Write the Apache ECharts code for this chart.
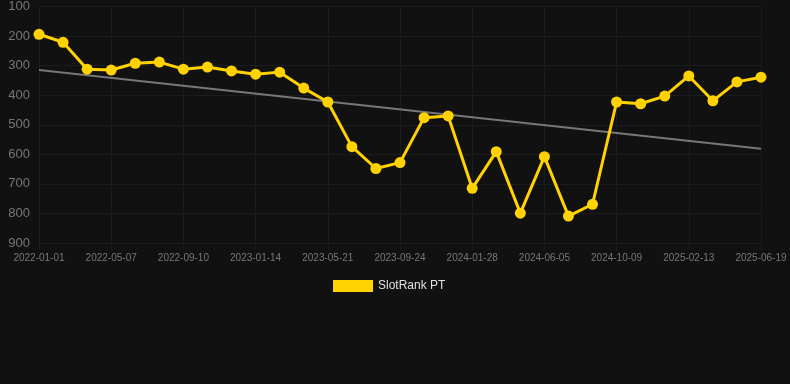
<!DOCTYPE html>
<html><head><meta charset="utf-8">
<script src="https://cdn.jsdelivr.net/npm/echarts@6/dist/echarts.min.js"></script>
<style>html,body{margin:0;padding:0;background:#111111;}#c{width:790px;height:384px;}</style>
</head><body><div id="c"></div>
<script>
const dates = ['2022-01-01','2022-02-12','2022-03-26','2022-05-07','2022-06-18','2022-07-30','2022-09-10','2022-10-22','2022-12-03','2023-01-14','2023-02-25','2023-04-09','2023-05-21','2023-07-02','2023-08-13','2023-09-24','2023-11-05','2023-12-17','2024-01-28','2024-03-11','2024-04-23','2024-06-05','2024-07-17','2024-08-28','2024-10-09','2024-11-20','2025-01-01','2025-02-13','2025-03-27','2025-05-08','2025-06-19'];
const rankValues = [194,221,312,315,292,288,312,305,318,329,322,376,423,574,648,628,476,470,715,591,799,608,809,769,423,429,403,335,419,355,339];
const trendStart = 315;
const trendEnd = 581;
const seriesName = 'SlotRank PT';

const trendData = dates.map((d,i)=> i===0 ? trendStart : (i===dates.length-1 ? trendEnd : null));

const chart = echarts.init(document.getElementById('c'), null, {renderer:'canvas'});
chart.setOption({
  backgroundColor:'#111111',
  animation:false,
  grid:{left:39,right:29,top:5,bottom:141,containLabel:false},
  legend:{
    data:[{name:seriesName}],
    bottom:87, left:328,
    itemWidth:40, itemHeight:12, itemGap:10,
    icon:'rect',
    textStyle:{color:'#e0e0e0',fontSize:12,fontFamily:'Arial, Liberation Sans, sans-serif'}
  },
  xAxis:{
    type:'category', data:dates, boundaryGap:false,
    axisLine:{show:false},
    axisTick:{show:true,interval:2,length:7,lineStyle:{color:'#1c1c1c'}},
    axisLabel:{interval:2,color:'#777777',fontSize:10,margin:10,fontFamily:'Arial, Liberation Sans, sans-serif'},
    splitLine:{show:true,interval:2,lineStyle:{color:'#1c1c1c',width:1}}
  },
  yAxis:{
    type:'value', inverse:true, min:100, max:900, interval:100,
    axisLine:{show:false}, axisTick:{show:false},
    axisLabel:{color:'#777777',fontSize:13,margin:9,fontFamily:'Arial, Liberation Sans, sans-serif'},
    splitLine:{show:true,lineStyle:{color:'#1c1c1c',width:1}}
  },
  series:[
    {
      name:'trend', type:'line', data:trendData, connectNulls:true,
      symbol:'none', lineStyle:{color:'#777777',width:2}, z:1, silent:true
    },
    {
      name:seriesName, type:'line', data:rankValues,
      symbol:'circle', symbolSize:11,
      itemStyle:{color:'#FFD200'},
      lineStyle:{color:'#FFD200',width:3}, z:2
    }
  ]
});
</script></body></html>
